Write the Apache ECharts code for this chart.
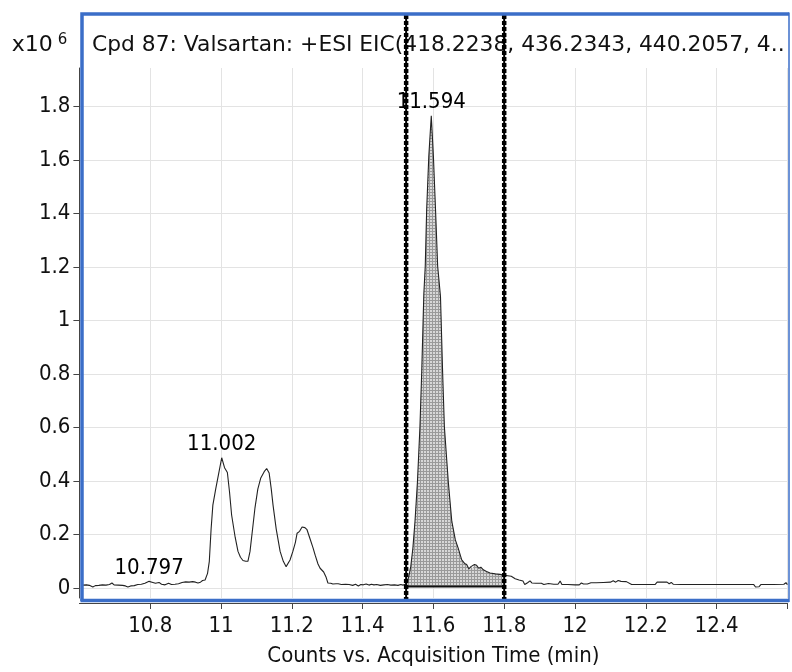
<!DOCTYPE html>
<html>
<head>
<meta charset="utf-8">
<script src="https://cdn.jsdelivr.net/npm/echarts@6/dist/echarts.min.js"></script>
<style>
  html, body { margin: 0; padding: 0; background: #fff; }
  #chart { width: 792px; height: 672px; }
</style>
</head>
<body>
<div id="chart"></div>
<script>
// Extracted ion chromatogram, intensity in units of 10^6 counts
const times = [
  10.610, 10.620, 10.628, 10.638, 10.645, 10.655, 10.665, 10.675, 10.685, 10.692,
  10.698, 10.710, 10.722, 10.730, 10.737, 10.745, 10.755, 10.765, 10.775, 10.785,
  10.797, 10.805, 10.815, 10.825, 10.832, 10.842, 10.852, 10.860, 10.870, 10.880,
  10.890, 10.900, 10.910, 10.920, 10.928, 10.935, 10.942, 10.948, 10.955, 10.962,
  10.967, 10.972, 10.977, 10.985, 10.993, 11.002, 11.010, 11.018, 11.024, 11.030,
  11.040, 11.048, 11.055, 11.062, 11.070, 11.076, 11.082, 11.090, 11.096, 11.104,
  11.112, 11.122, 11.129, 11.136, 11.142, 11.147, 11.156, 11.167, 11.176, 11.184,
  11.189, 11.195, 11.203, 11.210, 11.215, 11.222, 11.229, 11.237, 11.243, 11.251,
  11.260, 11.266, 11.274, 11.280, 11.290, 11.297, 11.302, 11.310, 11.316, 11.325,
  11.331, 11.340, 11.352, 11.362, 11.372, 11.380, 11.388, 11.395, 11.402, 11.410,
  11.418, 11.425, 11.432, 11.440, 11.450, 11.460, 11.470, 11.480, 11.490, 11.500,
  11.508, 11.514, 11.523, 11.530, 11.536, 11.542, 11.548, 11.555, 11.562, 11.567,
  11.573, 11.577, 11.581, 11.587, 11.594, 11.600, 11.606, 11.612, 11.620, 11.626,
  11.631, 11.642, 11.652, 11.662, 11.670, 11.680, 11.688, 11.694, 11.700, 11.706,
  11.711, 11.716, 11.722, 11.728, 11.734, 11.741, 11.750, 11.760, 11.775, 11.788,
  11.800, 11.810, 11.820, 11.831, 11.842, 11.853, 11.858, 11.866, 11.873, 11.878,
  11.890, 11.905, 11.912, 11.925, 11.940, 11.952, 11.958, 11.963, 11.980, 12.000,
  12.012, 12.018, 12.024, 12.035, 12.045, 12.060, 12.080, 12.100, 12.108, 12.115,
  12.122, 12.130, 12.145, 12.160, 12.200, 12.226, 12.232, 12.260, 12.266, 12.272,
  12.278, 12.300, 12.350, 12.400, 12.450, 12.505, 12.510, 12.520, 12.525, 12.560,
  12.590, 12.596, 12.600
];
const intensity = [
  0.011, 0.012, 0.010, 0.004, 0.009, 0.010, 0.012, 0.011, 0.013, 0.019,
  0.012, 0.011, 0.010, 0.008, 0.004, 0.008, 0.009, 0.013, 0.014, 0.018,
  0.025, 0.022, 0.018, 0.021, 0.014, 0.012, 0.018, 0.013, 0.014, 0.016,
  0.021, 0.023, 0.022, 0.024, 0.022, 0.019, 0.022, 0.028, 0.030, 0.055,
  0.100, 0.220, 0.310, 0.370, 0.425, 0.487, 0.450, 0.432, 0.360, 0.273,
  0.190, 0.137, 0.115, 0.103, 0.100, 0.100, 0.137, 0.230, 0.300, 0.370,
  0.410, 0.435, 0.447, 0.430, 0.370, 0.310, 0.220, 0.137, 0.100, 0.080,
  0.078, 0.105, 0.137, 0.170, 0.205, 0.212, 0.228, 0.226, 0.218, 0.186,
  0.150, 0.123, 0.090, 0.074, 0.060, 0.040, 0.019, 0.018, 0.015, 0.016,
  0.016, 0.013, 0.014, 0.013, 0.010, 0.014, 0.008, 0.013, 0.012, 0.015,
  0.011, 0.014, 0.012, 0.013, 0.010, 0.012, 0.013, 0.011, 0.012, 0.010,
  0.013, 0.011, 0.015, 0.040, 0.080, 0.149, 0.249, 0.398, 0.603, 0.808,
  1.100, 1.204, 1.415, 1.614, 1.765, 1.614, 1.415, 1.204, 1.090, 0.808,
  0.603, 0.398, 0.249, 0.180, 0.149, 0.105, 0.092, 0.088, 0.072, 0.080,
  0.074, 0.088, 0.085, 0.074, 0.078, 0.068, 0.062, 0.056, 0.053, 0.051,
  0.048, 0.046, 0.044, 0.035, 0.030, 0.026, 0.013, 0.020, 0.027, 0.019,
  0.018, 0.018, 0.013, 0.017, 0.014, 0.014, 0.026, 0.013, 0.013, 0.012,
  0.012, 0.019, 0.015, 0.015, 0.020, 0.020, 0.021, 0.022, 0.027, 0.022,
  0.028, 0.025, 0.024, 0.013, 0.013, 0.013, 0.022, 0.022, 0.016, 0.021,
  0.014, 0.013, 0.013, 0.013, 0.013, 0.013, 0.004, 0.005, 0.013, 0.013,
  0.014, 0.020, 0.013
];

// Retention times annotated above their peaks
const peakTimes = [10.797, 11.002, 11.594];

// Integration window and its baseline level
const windowStart = 11.523;
const windowEnd = 11.800;
const windowBaseline = 0.006;

// Axis ticks
const xTicks = [10.8, 11.0, 11.2, 11.4, 11.6, 11.8, 12.0, 12.2, 12.4];
const xTickMarks = [10.8, 11.0, 11.2, 11.4, 11.6, 11.8, 12.0, 12.2, 12.4, 12.6];
const yTicks = [0, 0.2, 0.4, 0.6, 0.8, 1.0, 1.2, 1.4, 1.6, 1.8];

const titleText = 'Cpd 87: Valsartan: +ESI EIC(418.2238, 436.2343, 440.2057, 4..';
const xName = 'Counts vs. Acquisition Time (min)';

const FONT = "'DejaVu Sans Condensed', 'DejaVu Sans', sans-serif";
const FONT_WIDE = "'DejaVu Sans', sans-serif";
const INK = '#111111';
const FRAME = '#3b6ec8';

// Fine cross-hatch used to shade the integrated area
function hatchPattern() {
  const c = document.createElement('canvas');
  c.width = 3; c.height = 3;
  const g = c.getContext('2d');
  g.fillStyle = '#d8d8d8';
  g.fillRect(0, 0, 3, 3);
  g.fillStyle = '#9a9a9a';
  g.fillRect(0, 0, 3, 1);
  g.fillRect(0, 0, 1, 3);
  return c;
}
const hatch = { image: hatchPattern(), repeat: 'repeat' };

const fmt = v => String(+(+v).toFixed(1));
const idxOf = t => times.findIndex(x => Math.abs(x - t) < 1e-6);

const traceData = times.map((t, i) => [t, intensity[i]]);
const peakData = peakTimes.map(t => [t, intensity[idxOf(t)]]);
const winIdx = times.map((t, i) => i)
  .filter(i => times[i] >= windowStart - 1e-9 && times[i] <= windowEnd + 1e-9);

const chart = echarts.init(document.getElementById('chart'), null, { renderer: 'canvas' });

const GL = 79.4, GW = 708;

chart.setOption({
  animation: false,
  backgroundColor: '#ffffff',
  title: {
    text: titleText,
    left: 87, top: 29,
    textStyle: { fontFamily: FONT_WIDE, fontSize: 21.8, fontWeight: 'normal', color: INK }
  },
  grid: [
    { left: GL, top: 68, width: GW, height: 532, containLabel: false },
    { left: GL, top: 13, width: GW, height: 588, containLabel: false }
  ],
  xAxis: [
    {
      type: 'value', gridIndex: 0,
      min: 10.6, max: 12.6,
      offset: 5,
      name: xName, nameLocation: 'middle', nameGap: 42,
      nameTextStyle: { fontFamily: FONT, fontSize: 22, color: INK },
      axisLine: { show: true, onZero: false, lineStyle: { color: '#444', width: 1 } },
      axisTick: { show: true, length: 6, customValues: xTickMarks, lineStyle: { color: '#444' } },
      axisLabel: {
        customValues: xTicks,
        fontFamily: FONT, fontSize: 22, color: INK, margin: 12,
        formatter: v => fmt(v)
      },
      splitLine: { show: true, lineStyle: { color: '#e3e3e3', width: 1 } }
    },
    { type: 'value', gridIndex: 1, min: 10.6, max: 12.6, show: false }
  ],
  yAxis: [
    {
      type: 'value', gridIndex: 0,
      min: -0.0372, max: 1.944,
      name: '{b|x10}{s|6}', nameLocation: 'end', nameGap: 10,
      nameTextStyle: {
        align: 'right', padding: [0, 12, 0, 0],
        rich: {
          b: { fontFamily: FONT_WIDE, fontSize: 22, color: INK },
          s: { fontFamily: FONT_WIDE, fontSize: 15, color: INK, padding: [0, 0, 10, 5] }
        }
      },
      axisLine: { show: true, onZero: false, lineStyle: { color: '#444', width: 1 } },
      axisTick: { show: true, length: 6, customValues: yTicks, lineStyle: { color: '#444' } },
      axisLabel: {
        customValues: yTicks,
        fontFamily: FONT, fontSize: 22, color: INK, margin: 9,
        formatter: v => fmt(v)
      },
      splitLine: { show: true, lineStyle: { color: '#e3e3e3', width: 1 } }
    },
    { type: 'value', gridIndex: 1, min: 0, max: 1, show: false }
  ],
  series: [
    {
      // shaded integrated area between the trace and the window baseline
      name: 'window-area', type: 'custom', xAxisIndex: 0, yAxisIndex: 0,
      silent: true, z: 2,
      data: [[windowStart, windowBaseline]],
      encode: { x: 0, y: 1 },
      renderItem: (params, api) => {
        const pts = winIdx.map(i => api.coord([times[i], intensity[i]]));
        pts.push(api.coord([windowEnd, windowBaseline]));
        pts.push(api.coord([windowStart, windowBaseline]));
        return {
          type: 'polygon',
          shape: { points: pts },
          style: { fill: hatch, stroke: null }
        };
      }
    },
    {
      name: 'window-baseline', type: 'line', xAxisIndex: 0, yAxisIndex: 0,
      data: [[windowStart, windowBaseline], [windowEnd, windowBaseline]],
      symbol: 'none', silent: true,
      lineStyle: { color: '#111', width: 2 }, z: 3
    },
    {
      name: 'EIC', type: 'line', xAxisIndex: 0, yAxisIndex: 0,
      data: traceData, symbol: 'none', showSymbol: false,
      lineStyle: { color: '#222', width: 1.1 },
      z: 4
    },
    {
      // retention-time annotations at the peak apexes
      name: 'peaks', type: 'scatter', xAxisIndex: 0, yAxisIndex: 0,
      data: peakData, symbolSize: 1, silent: true,
      itemStyle: { color: 'rgba(0,0,0,0)' },
      label: {
        show: true, position: 'top', distance: 2, opacity: 1,
        textBorderWidth: 0,
        formatter: p => p.value[0].toFixed(3),
        fontFamily: FONT, fontSize: 22, color: '#000'
      },
      labelLayout: { hideOverlap: false },
      z: 7
    },
    // integration window boundaries: solid core with a dashed thick outer stroke
    ...[windowStart, windowEnd].flatMap(t => [
      {
        type: 'line', xAxisIndex: 1, yAxisIndex: 1, silent: true,
        data: [[t, 0], [t, 1]], symbol: 'none',
        lineStyle: { color: '#000', width: 4.5, type: [4, 2] }, z: 6
      },
      {
        type: 'line', xAxisIndex: 1, yAxisIndex: 1, silent: true,
        data: [[t, 0], [t, 1]], symbol: 'none',
        lineStyle: { color: '#000', width: 2 }, z: 6
      }
    ])
  ],
  graphic: [
    {
      type: 'polyline', z: 100, silent: true,
      shape: { points: [[82, 601], [82, 14], [789, 14]] },
      style: { stroke: FRAME, lineWidth: 3.5, fill: null }
    },
    {
      type: 'line', z: 100, silent: true,
      shape: { x1: 80.5, y1: 600.5, x2: 789, y2: 600.5 },
      style: { stroke: FRAME, lineWidth: 3.5 }
    },
    {
      type: 'line', z: 100, silent: true,
      shape: { x1: 789, y1: 12.5, x2: 789, y2: 602 },
      style: { stroke: FRAME, lineWidth: 1.5 }
    }
  ]
});
</script>
</body>
</html>
